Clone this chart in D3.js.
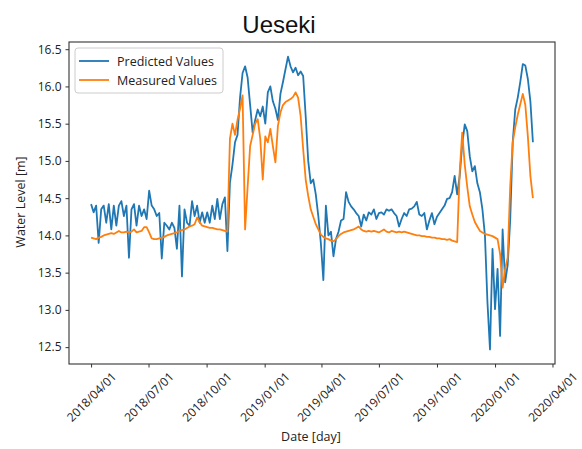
<!DOCTYPE html>
<html>
<head>
<meta charset="utf-8">
<script src="https://cdn.jsdelivr.net/npm/d3@7"></script>
<style>
  html, body { margin: 0; padding: 0; background: #fff; }
  svg { display: block; }
</style>
</head>
<body>
<svg id="chart" width="582" height="449"></svg>
<script>
// Series sampled every 4 days starting 2018/04/01
const startDate = "2018-04-01";
const stepDays = 4;

const predicted = [
  14.42, 14.31, 14.40, 13.90, 14.35, 14.40, 14.17, 14.42, 14.08, 14.40,
  14.13, 14.40, 14.46, 14.26, 14.40, 13.70, 14.35, 14.42, 14.13, 14.40,
  14.26, 14.35, 14.22, 14.60, 14.40, 14.35, 14.26, 14.30, 13.69, 14.17,
  14.13, 14.08, 14.17, 14.10, 13.82, 14.40, 13.45, 14.35, 14.17, 14.13,
  14.46, 14.26, 14.40, 14.17, 14.31, 14.17, 14.31, 14.17, 14.40, 14.22,
  14.49, 14.22, 14.42, 14.51, 13.79, 14.71, 14.95, 15.25, 15.35, 15.85,
  16.18, 16.27, 16.12, 15.75, 15.38, 15.55, 15.69, 15.60, 15.73, 15.50,
  15.92, 16.00, 15.80, 15.70, 15.55, 15.90, 16.06, 16.23, 16.40, 16.27,
  16.19, 16.25, 16.15, 16.20, 16.14, 15.60, 15.00, 14.70, 14.75, 14.55,
  14.26, 13.90, 13.40, 14.40, 14.00, 14.05, 13.72, 13.95, 14.05, 14.20,
  14.22, 14.58, 14.45, 14.39, 14.35, 14.30, 14.26, 14.12, 14.28, 14.20,
  14.31, 14.28, 14.35, 14.22, 14.30, 14.31, 14.28, 14.35, 14.33, 14.35,
  14.30, 14.26, 14.12, 14.22, 14.30, 14.26, 14.35, 14.36, 14.39, 14.45,
  14.28, 14.26, 14.30, 14.08, 14.20, 14.30, 14.15, 14.25, 14.30, 14.35,
  14.40, 14.49, 14.50, 14.58, 14.80, 14.55, 14.80, 15.22, 15.49, 15.40,
  15.06, 14.86, 14.93, 14.70, 14.58, 14.35, 14.00, 13.10, 12.47, 13.82,
  13.01, 13.55, 12.65, 14.08, 13.37, 13.60, 14.20, 15.25, 15.69, 15.85,
  16.06, 16.30, 16.28, 16.10, 15.80, 15.25
];

const measured = [
  13.97, 13.96, 13.95, 13.97, 13.98, 14.00, 14.01, 14.02, 14.03, 14.02,
  14.04, 14.06, 14.04, 14.04, 14.05, 14.04, 14.05, 14.08, 14.04, 14.05,
  14.06, 14.11, 14.11, 14.04, 13.96, 13.95, 13.95, 13.96, 13.97, 13.98,
  14.00, 14.01, 14.02, 14.03, 14.04, 14.06, 14.07, 14.08, 14.10, 14.12,
  14.13, 14.15, 14.24, 14.18, 14.13, 14.12, 14.11, 14.10, 14.10, 14.09,
  14.08, 14.08, 14.07, 14.06, 14.05, 15.30, 15.50, 15.35, 15.55, 15.70,
  15.88, 14.08, 14.65, 15.20, 15.35, 15.50, 15.56, 15.30, 14.75, 15.33,
  15.25, 15.43, 15.20, 14.98, 15.47, 15.65, 15.75, 15.79, 15.81, 15.83,
  15.86, 15.92, 15.85, 15.60, 15.16, 14.75, 14.53, 14.35, 14.25, 14.15,
  14.08, 14.01, 13.98, 13.96, 13.95, 13.93, 13.92, 13.95, 13.99, 14.02,
  14.04, 14.05, 14.06, 14.07, 14.08, 14.10, 14.12, 14.08, 14.06, 14.05,
  14.06, 14.05, 14.06, 14.05, 14.04, 14.06, 14.08, 14.05, 14.04, 14.06,
  14.05, 14.04, 14.05, 14.04, 14.05, 14.04, 14.03, 14.02, 14.01, 14.00,
  14.00, 13.99, 13.99, 13.98, 13.98, 13.97, 13.97, 13.96, 13.96, 13.95,
  13.95, 13.94, 13.95, 13.93, 13.92, 13.91, 14.85, 15.38, 14.95, 14.65,
  14.39, 14.28, 14.18, 14.12, 14.06, 14.04, 14.02, 14.01, 14.00, 13.99,
  13.97, 13.95, 13.75, 13.30, 13.55, 13.70, 14.65, 15.25, 15.45, 15.62,
  15.76, 15.90, 15.75, 15.33, 14.80, 14.50
];

const yTickValues = [12.5, 13.0, 13.5, 14.0, 14.5, 15.0, 15.5, 16.0, 16.5];
const xTickLabels = ["2018/04/01", "2018/07/01", "2018/10/01", "2019/01/01", "2019/04/01",
                     "2019/07/01", "2019/10/01", "2020/01/01", "2020/04/01"];
const seriesNames = ["Predicted Values", "Measured Values"];
const seriesColors = ["#1f77b4", "#ff7f0e"];

const parse = d3.utcParse("%Y/%m/%d");
const t0 = d3.utcParse("%Y-%m-%d")(startDate);
const dates = predicted.map((_, i) => d3.utcDay.offset(t0, i * stepDays));

// plot box
const box = { left: 69, right: 555, top: 42, bottom: 364 };

// 5% padding on both axes around the data extent
const tMin = dates[0], tMax = dates[dates.length - 1];
const tPad = (tMax - tMin) * 0.05;
const x = d3.scaleUtc()
  .domain([new Date(+tMin - tPad), new Date(+tMax + tPad)])
  .range([box.left, box.right]);

const allVals = predicted.concat(measured);
const vMin = d3.min(allVals), vMax = d3.max(allVals);
const vPad = (vMax - vMin) * 0.05;
const y = d3.scaleLinear()
  .domain([vMin - vPad, vMax + vPad])
  .range([box.bottom, box.top]);

const svg = d3.select("#chart");
const tickFont = "'Open Sans', 'DejaVu Sans', sans-serif";
const axisColor = "#333";

// title
svg.append("text")
  .attr("x", 279).attr("y", 33)
  .attr("text-anchor", "middle")
  .attr("font-family", "'Liberation Sans', Arial, sans-serif")
  .attr("font-size", 24)
  .attr("fill", "#111")
  .text("Ueseki");

// clip for lines
svg.append("defs").append("clipPath").attr("id", "plotClip")
  .append("rect")
  .attr("x", box.left).attr("y", box.top)
  .attr("width", box.right - box.left).attr("height", box.bottom - box.top);

const line = d3.line()
  .x((d, i) => x(dates[i]))
  .y(d => y(d));

const plot = svg.append("g").attr("clip-path", "url(#plotClip)");
[predicted, measured].forEach((series, k) => {
  plot.append("path")
    .datum(series)
    .attr("fill", "none")
    .attr("stroke", seriesColors[k])
    .attr("stroke-width", 1.8)
    .attr("stroke-linejoin", "round")
    .attr("d", line);
});

// axes
const yAxis = d3.axisLeft(y)
  .tickValues(yTickValues)
  .tickFormat(d3.format(".1f"))
  .tickSize(3.5).tickPadding(4);
const gy = svg.append("g").attr("transform", `translate(${box.left},0)`).call(yAxis);
gy.select(".domain").remove();

const xAxis = d3.axisBottom(x)
  .tickValues(xTickLabels.map(parse))
  .tickFormat(d3.utcFormat("%Y/%m/%d"))
  .tickSize(3.5);
const gx = svg.append("g").attr("transform", `translate(0,${box.bottom})`).call(xAxis);
gx.select(".domain").remove();
gx.selectAll(".tick text")
  .attr("text-anchor", "middle")
  .attr("y", 0).attr("dy", "0.35em")
  .attr("transform", "translate(0,33) rotate(-45)");

[gx, gy].forEach(g => {
  g.selectAll(".tick line").attr("stroke", axisColor).attr("stroke-width", 1);
  g.selectAll(".tick text")
    .attr("fill", "#222")
    .attr("font-family", tickFont)
    .attr("font-size", 12);
});

// frame
svg.append("rect")
  .attr("x", box.left).attr("y", box.top)
  .attr("width", box.right - box.left).attr("height", box.bottom - box.top)
  .attr("fill", "none").attr("stroke", axisColor).attr("stroke-width", 1.1);

// axis labels
svg.append("text")
  .attr("transform", "translate(20,202) rotate(-90)")
  .attr("text-anchor", "middle")
  .attr("dominant-baseline", "central")
  .attr("font-family", tickFont).attr("font-size", 12.5)
  .attr("fill", "#222")
  .text("Water Level [m]");

svg.append("text")
  .attr("x", 311).attr("y", 436)
  .attr("text-anchor", "middle")
  .attr("dominant-baseline", "central")
  .attr("font-family", tickFont).attr("font-size", 12.5)
  .attr("fill", "#222")
  .text("Date [day]");

// legend
const lg = svg.append("g");
lg.append("rect")
  .attr("x", 75).attr("y", 48).attr("width", 148).attr("height", 45)
  .attr("rx", 3)
  .attr("fill", "#fff").attr("fill-opacity", 0.8)
  .attr("stroke", "#ccc").attr("stroke-width", 1);
seriesNames.forEach((name, k) => {
  const yy = 61 + k * 19;
  lg.append("line")
    .attr("x1", 79).attr("x2", 109).attr("y1", yy).attr("y2", yy)
    .attr("stroke", seriesColors[k]).attr("stroke-width", 1.8);
  lg.append("text")
    .attr("x", 117).attr("y", yy)
    .attr("dominant-baseline", "central")
    .attr("font-family", tickFont).attr("font-size", 12.5)
    .attr("fill", "#222")
    .text(name);
});
</script>
</body>
</html>
